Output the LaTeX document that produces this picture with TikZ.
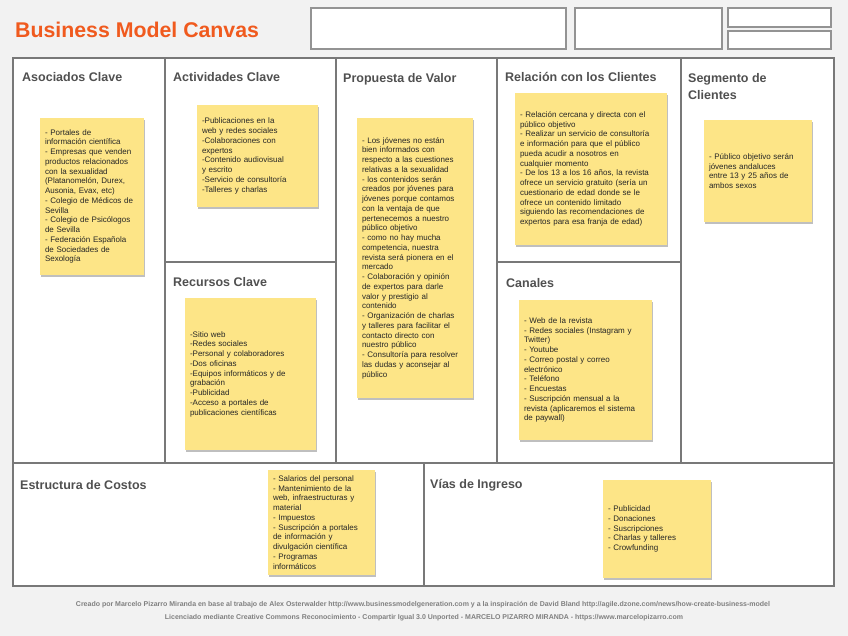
\documentclass[tikz,border=0pt]{standalone}
\usepackage{fontspec}
\setmainfont{Liberation Sans}
\definecolor{canvasGray}{RGB}{120,120,120}
\definecolor{pageGray}{RGB}{242,242,242}
\definecolor{titleOrange}{RGB}{240,90,30}
\definecolor{headGray}{RGB}{80,80,80}
\definecolor{noteYellow}{RGB}{253,229,135}
\usetikzlibrary{shadows,positioning}
\begin{document}
\begin{tikzpicture}[
        x=1pt, y=-1pt,
        frame/.style={draw=canvasGray, line width=2pt},
        hbox/.style={draw=canvasGray!80, line width=1.3pt, fill=white},
        blockhead/.style={anchor=west, font=\fontsize{12.5}{17}\selectfont\bfseries, text=headGray, align=left, inner sep=0pt},
        note/.style={fill=noteYellow, inner xsep=5pt, inner ysep=0pt, align=left,
          font=\fontsize{8}{9.75}\selectfont, text=black!85,
          drop shadow={shadow xshift=0.8pt, shadow yshift=-2pt, fill=black, opacity=0.25}},
        footer/.style={font=\fontsize{7}{8}\selectfont\bfseries, text=black!50, inner sep=0pt}
      ]
        \useasboundingbox[fill=pageGray] (0,0) rectangle (848,636);
        % Title and header boxes
        \node[anchor=west, font=\fontsize{21.3}{24}\selectfont\bfseries, text=titleOrange, inner sep=0pt] (title) at (15,30) {Business Model Canvas};
        \draw[hbox] (311,8) rectangle (566,49);
        \draw[hbox] (575,8) rectangle (722,49);
        \draw[hbox] (728,8) rectangle (831,27);
        \draw[hbox] (728,31) rectangle (831,49);
        % Canvas grid
        \fill[white] (13,58) rectangle (834,586);
        \draw[frame] (165,58) -- (165,463);
        \draw[frame] (336,58) -- (336,463);
        \draw[frame] (497,58) -- (497,463);
        \draw[frame] (681,58) -- (681,463);
        \draw[frame] (165,262) -- (336,262);
        \draw[frame] (497,262) -- (681,262);
        \draw[frame] (13,463) -- (834,463);
        \draw[frame] (424,463) -- (424,586);
        \draw[frame, line width=2.4pt] (13,58) rectangle (834,586);
        % Block headings
        \node[blockhead] (hAso) at (22,77) {Asociados Clave};
        \node[blockhead] (hAct) at (173,77) {Actividades Clave};
        \node[blockhead] (hPro) at (343,79) {Propuesta de Valor};
        \node[blockhead] (hRel) at (505,77) {Relación con los Clientes};
        \node[blockhead] (hSeg) at (688,86.5) {Segmento de\\Clientes};
        \node[blockhead] (hRec) at (173,282) {Recursos Clave};
        \node[blockhead] (hCan) at (506,283) {Canales};
        \node[blockhead] (hCos) at (20,485) {Estructura de Costos};
        \node[blockhead] (hIng) at (430,485) {Vías de Ingreso};
        % Sticky notes
        \node[note, text width=94pt, minimum height=157pt] (nAso) at (92,196.5) {%
          - Portales de\\información científica\\- Empresas que venden\\productos relacionados\\con la sexualidad\\(Platanomelón, Durex,\\Ausonia, Evax, etc)\\- Colegio de Médicos de\\Sevilla\\- Colegio de Psicólogos\\de Sevilla\\- Federación Española\\de Sociedades de\\Sexología};
        \node[note, text width=111pt, minimum height=102pt] (nAct) at (257.5,156) {%
          -Publicaciones en la\\web y redes sociales\\-Colaboraciones con\\expertos\\-Contenido audiovisual\\y escrito\\-Servicio de consultoría\\-Talleres y charlas};
        \node[note, text width=106pt, minimum height=280pt] (nPro) at (415,258) {%
          - Los jóvenes no están\\bien informados con\\respecto a las cuestiones\\relativas a la sexualidad\\- los contenidos serán\\creados por jóvenes para\\jóvenes porque contamos\\con la ventaja de que\\pertenecemos a nuestro\\público objetivo\\- como no hay mucha\\competencia, nuestra\\revista será pionera en el\\mercado\\- Colaboración y opinión\\de expertos para darle\\valor y prestigio al\\contenido\\- Organización de charlas\\y talleres para facilitar el\\contacto directo con\\nuestro público\\- Consultoría para resolver\\las dudas y aconsejar al\\público};
        \node[note, text width=142pt, minimum height=152pt] (nRel) at (591,169) {%
          - Relación cercana y directa con el\\público objetivo\\- Realizar un servicio de consultoría\\e información para que el público\\pueda acudir a nosotros en\\cualquier momento\\- De los 13 a los 16 años, la revista\\ofrece un servicio gratuito (sería un\\cuestionario de edad donde se le\\ofrece un contenido limitado\\siguiendo las recomendaciones de\\expertos para esa franja de edad)};
        \node[note, text width=98pt, minimum height=102pt] (nSeg) at (758,171) {%
          - Público objetivo serán\\jóvenes andaluces\\entre 13 y 25 años de\\ambos sexos};
        \node[note, text width=121pt, minimum height=152pt] (nRec) at (250.5,374) {%
          -Sitio web\\-Redes sociales\\-Personal y colaboradores\\-Dos oficinas\\-Equipos informáticos y de\\grabación\\-Publicidad\\-Acceso a portales de\\publicaciones científicas};
        \node[note, text width=123pt, minimum height=140pt] (nCan) at (585.5,370) {%
          - Web de la revista\\- Redes sociales (Instagram y\\Twitter)\\- Youtube\\- Correo postal y correo\\electrónico\\- Teléfono\\- Encuestas\\- Suscripción mensual a la\\revista (aplicaremos el sistema\\de paywall)};
        \node[note, text width=97pt, minimum height=105pt] (nCos) at (321.5,522.5) {%
          - Salarios del personal\\- Mantenimiento de la\\web, infraestructuras y\\material\\- Impuestos\\- Suscripción a portales\\de información y\\divulgación científica\\- Programas\\informáticos};
        \node[note, text width=98pt, minimum height=98pt] (nIng) at (657,529) {%
          - Publicidad\\- Donaciones\\- Suscripciones\\- Charlas y talleres\\- Crowfunding};
        % Footer
        \node[footer] (foot1) at (423,605) {Creado por Marcelo Pizarro Miranda en base al trabajo de Alex Osterwalder http://www.businessmodelgeneration.com y a la inspiración de David Bland http://agile.dzone.com/news/how-create-business-model};
        \node[footer] (foot2) at (424,618) {Licenciado mediante Creative Commons Reconocimiento - Compartir Igual 3.0 Unported - MARCELO PIZARRO MIRANDA - https://www.marcelopizarro.com};
      \end{tikzpicture}
\end{document}
